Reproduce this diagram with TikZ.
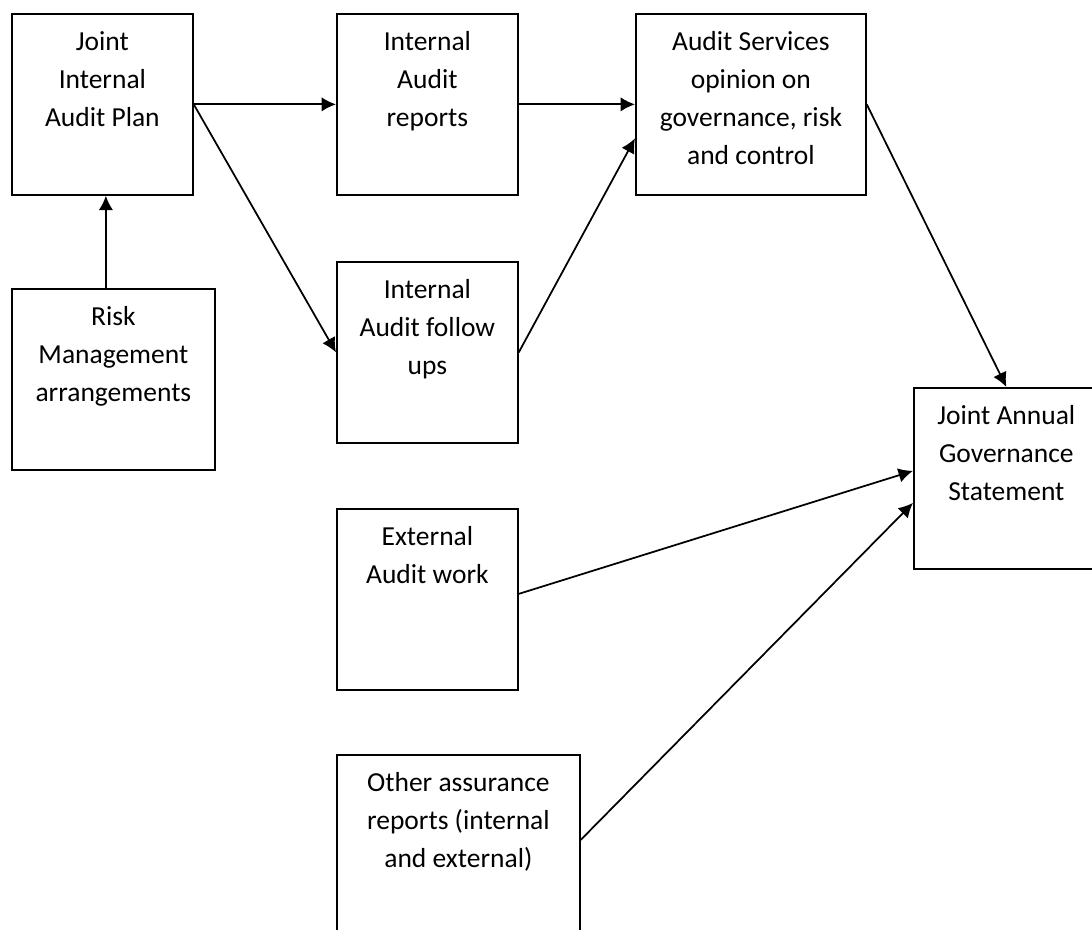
\documentclass[tikz,border=0pt]{standalone}
\usepackage{fontspec}
\setmainfont{Carlito}
\usetikzlibrary{arrows.meta}

\begin{document}
\begin{tikzpicture}[x=0.4pt, y=-0.4pt, >={Latex[length=5.8pt,width=5.8pt]},
    every node/.style={font=\fontsize{11}{15.2}\selectfont},
    box/.style={draw, line width=0.7pt, anchor=north west, inner sep=0pt, align=flush center,
      text width=#1, text height=14.8pt, text depth=57.6pt},
    link/.style={->, line width=0.7pt}]
  \useasboundingbox (0,0) rectangle (1092,930);
  \clip (0,0) rectangle (1092,930);

  \node[box=72.4pt] (plan) at (11,13) {Joint\\Internal\\Audit Plan};
  \node[box=81.2pt] (risk) at (11,288) {Risk\\Management\\arrangements};
  \node[box=72.4pt] (reports) at (336,13) {Internal\\Audit\\reports};
  \node[box=72.4pt] (followups) at (336,261) {Internal\\Audit follow\\ups};
  \node[box=92pt] (opinion) at (635,13) {Audit Services\\opinion on\\governance, risk\\and control};
  \node[box=74pt] (ags) at (913,387) {Joint Annual\\Governance\\Statement};
  \node[box=72.4pt] (external) at (336,508) {External\\Audit work};
  \node[box=97.2pt] (other) at (336,754) {Other assurance\\reports (internal\\and external)};

  \draw[link] (plan.east) -- (reports.west);
  \draw[link] (reports.east) -- (opinion.west);
  \draw[link] ([xshift=1.4pt]plan.south |- risk.north) -- ([xshift=1.4pt]plan.south);
  \draw[link] (plan.east) -- (followups.west);
  \draw[link] (followups.east) -- ([yshift=-13.6pt]opinion.west);
  \draw[link] (opinion.east) -- (ags.north);
  \draw[link] ([yshift=2.2pt]external.east) -- ([yshift=3pt]ags.west);
  \draw[link] ([yshift=2.2pt]other.east) -- ([yshift=-9.8pt]ags.west);
\end{tikzpicture}
\end{document}
